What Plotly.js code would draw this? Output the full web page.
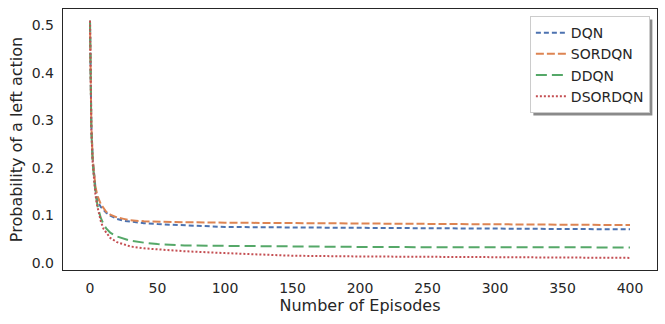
<!DOCTYPE html>
<html>
<head>
<meta charset="utf-8">
<script src="https://cdn.plot.ly/plotly-3.0.1.min.js"></script>
<style>
  html, body { margin: 0; padding: 0; background: #fff; }
  #chart { width: 665px; height: 324px; }
</style>
</head>
<body>
<div id="chart"></div>
<script>
// episodes sampled more densely where the curves fall fast
const episodes = [0, 1, 2, 3, 4, 5, 6, 8, 10, 12, 15, 20, 25, 30, 40, 50, 70, 100, 150, 200, 250, 300, 350, 400];

const dqn     = [0.51, 0.29, 0.22, 0.185, 0.16, 0.14, 0.128, 0.118, 0.112, 0.106, 0.100, 0.093, 0.089, 0.087, 0.084, 0.082, 0.079, 0.076, 0.075, 0.074, 0.073, 0.072, 0.0715, 0.071];
const sordqn  = [0.51, 0.29, 0.22, 0.185, 0.162, 0.148, 0.138, 0.124, 0.115, 0.108, 0.102, 0.096, 0.093, 0.090, 0.088, 0.087, 0.086, 0.085, 0.084, 0.083, 0.082, 0.0815, 0.081, 0.080];
const ddqn    = [0.51, 0.28, 0.21, 0.175, 0.15, 0.13, 0.115, 0.095, 0.082, 0.073, 0.064, 0.056, 0.051, 0.047, 0.043, 0.040, 0.037, 0.036, 0.035, 0.034, 0.0335, 0.033, 0.033, 0.033];
const dsordqn = [0.51, 0.28, 0.21, 0.17, 0.145, 0.125, 0.11, 0.088, 0.072, 0.064, 0.053, 0.044, 0.039, 0.035, 0.031, 0.029, 0.025, 0.021, 0.0155, 0.014, 0.013, 0.012, 0.0115, 0.011];

const names = ['DQN', 'SORDQN', 'DDQN', 'DSORDQN'];
const series = [dqn, sordqn, ddqn, dsordqn];
const colors = ['#4c72b0', '#dd8452', '#55a868', '#c44e52'];
const dashes = ['5px,3px', '8px,3px', '11px,5px', '2px,2px'];

const traces = series.map((ys, i) => ({
    x: episodes,
    y: ys,
    name: names[i],
    type: 'scatter',
    mode: 'lines',
    line: { color: colors[i], width: 2, dash: dashes[i] }
}));

const font = { family: 'DejaVu Sans, sans-serif', color: '#262626' };

const axisBase = {
    showline: true,
    mirror: true,
    linecolor: '#262626',
    linewidth: 1.25,
    showgrid: false,
    zeroline: false,
    ticks: 'outside',
    ticklen: 5,
    tickcolor: 'rgba(0,0,0,0)',
    tickfont: Object.assign({ size: 14 }, font)
};

const layout = {
    width: 665,
    height: 324,
    margin: { l: 63, r: 8, t: 9, b: 54 },
    paper_bgcolor: '#fff',
    plot_bgcolor: '#fff',
    font: font,
    showlegend: true,
    xaxis: Object.assign({}, axisBase, {
        range: [-20, 420],
        tickvals: [0, 50, 100, 150, 200, 250, 300, 350, 400],
        title: { text: 'Number of Episodes', font: Object.assign({ size: 16 }, font), standoff: 2 }
    }),
    yaxis: Object.assign({}, axisBase, {
        range: [-0.0145, 0.5345],
        tickvals: [0, 0.1, 0.2, 0.3, 0.4, 0.5],
        tickformat: '.1f',
        title: { text: 'Probability of a left action', font: Object.assign({ size: 16 }, font), standoff: 5 }
    }),
    legend: {
        x: 0.988, y: 0.973,
        xanchor: 'right', yanchor: 'top',
        bgcolor: '#fff',
        bordercolor: '#cccccc',
        borderwidth: 1,
        font: Object.assign({ size: 14 }, font),
        tracegroupgap: 0
    }
};

Plotly.newPlot('chart', traces, layout, { displayModeBar: false, staticPlot: true }).then(gd => {
    // matplotlib-style drop shadow: a grey box offset behind the legend
    const bg = gd.querySelector('.legend .bg').getBoundingClientRect();
    const host = gd.getBoundingClientRect();
    const sz = gd._fullLayout._size;
    const px = v => (v - host.left - sz.l) / sz.w;
    const py = v => 1 - (v - host.top - sz.t) / sz.h;
    Plotly.relayout(gd, {
        shapes: [{
            type: 'rect', xref: 'paper', yref: 'paper', layer: 'above',
            x0: px(bg.left + 3), x1: px(bg.right + 3),
            y0: py(bg.bottom + 3), y1: py(bg.top + 3),
            fillcolor: 'rgba(60,60,60,0.6)', line: { width: 0 }
        }]
    });
});
</script>
</body>
</html>
